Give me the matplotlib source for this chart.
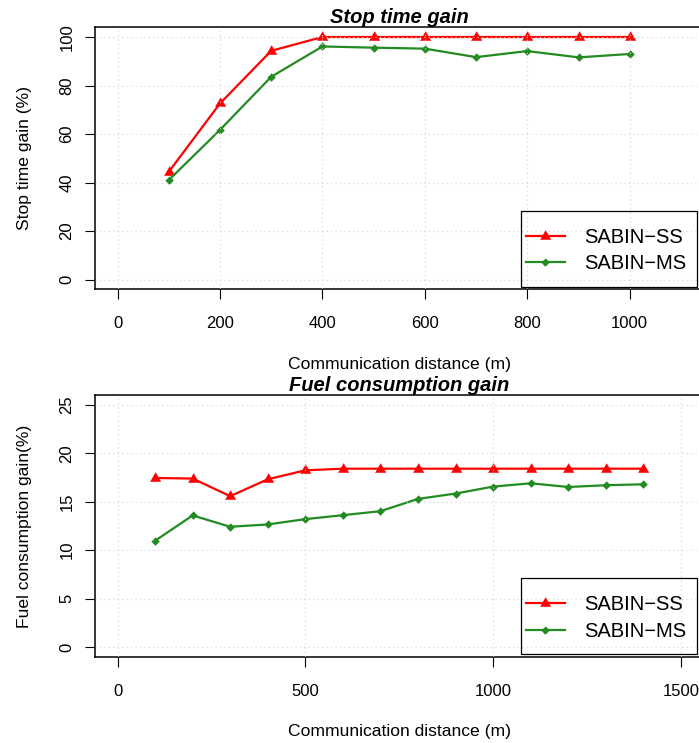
import matplotlib
matplotlib.use("Agg")
import matplotlib.pyplot as plt
from matplotlib.patches import Rectangle

plt.rcParams['font.family'] = ['Liberation Sans', 'DejaVu Sans']

# ---------------- data ----------------
stop_distance = [100, 200, 300, 400, 500, 600, 700, 800, 900, 1000]
stop_ss = [44.4, 72.6, 94.3, 100, 100, 100, 100, 100, 100, 100]
stop_ms = [41.0, 61.7, 83.6, 96.1, 95.6, 95.2, 91.7, 94.2, 91.6, 93.0]

fuel_distance = [100, 200, 300, 400, 500, 600, 700, 800, 900, 1000, 1100, 1200, 1300, 1400]
fuel_ss = [17.45, 17.39, 15.57, 17.32, 18.24, 18.41, 18.41, 18.41, 18.41, 18.41, 18.41, 18.41, 18.41, 18.41]
fuel_ms = [10.97, 13.58, 12.41, 12.65, 13.20, 13.61, 14.02, 15.29, 15.84, 16.56, 16.90, 16.52, 16.70, 16.80]

series_labels = ["SABIN\u2212SS", "SABIN\u2212MS"]

stop_xticks = [0, 200, 400, 600, 800, 1000]
stop_yticks = [0, 20, 40, 60, 80, 100]
fuel_xticks = [0, 500, 1000, 1500]
fuel_yticks = [0, 5, 10, 15, 20, 25]

stop_xrange = (0, 1100)
stop_yrange = (0, 100)
fuel_xrange = (0, 1500)
fuel_yrange = (0, 25)

# ---------------- style ----------------
RED = '#FF0000'
GREEN = '#228B22'
GRID = '#D3D3D3'
TRI = [(0, 1.5551), (1.3468, -0.7776), (-1.3468, -0.7776)]
DIAM = [(0, 1), (1, 0), (0, -1), (-1, 0)]

W, H, DPI = 699, 743, 100
fig = plt.figure(figsize=(W / DPI, H / DPI), dpi=DPI)
fig.patch.set_facecolor('white')


def r_lim(rng):
    pad = 0.04 * (rng[1] - rng[0])
    return (rng[0] - pad, rng[1] + pad)


def make_panel(rect_px, x, ss, ms, xticks, yticks, xrange_, yrange_, title, ylabel):
    left, top, right, bottom = rect_px
    ax = fig.add_axes([left / W, 1 - bottom / H, (right - left) / W, (bottom - top) / H])
    l1, = ax.plot(x, ss, color=RED, lw=1.6, marker=TRI, ms=8.6, mew=0.4,
                  mec=RED, mfc=RED, zorder=2, clip_on=False)
    l2, = ax.plot(x, ms, color=GREEN, lw=1.6, marker=DIAM, ms=5.6, mew=0.4,
                  mec=GREEN, mfc=GREEN, zorder=2, clip_on=False)
    ax.set_xlim(*r_lim(xrange_))
    ax.set_ylim(*r_lim(yrange_))
    ax.set_xticks(xticks)
    ax.set_yticks(yticks)
    ax.set_axisbelow(False)
    ax.grid(True, color=GRID, linestyle=(0, (1, 3)), linewidth=0.8)
    for sp in ax.spines.values():
        sp.set_linewidth(1.1)
        sp.set_color('black')
    ax.tick_params(axis='both', direction='out', length=7.2, width=0.8,
                   labelsize=12, colors='black')
    ax.tick_params(axis='x', pad=12.2)
    ax.tick_params(axis='y', pad=7.6)
    for lbl in ax.get_yticklabels():
        lbl.set_rotation(90)
        lbl.set_va('center')
    ax.set_title(title, fontsize=14.5, fontweight='bold', fontstyle='italic', pad=2.1)
    ax.set_xlabel('Communication distance (m)', fontsize=12.6, labelpad=18.2)
    ax.set_ylabel(ylabel, fontsize=12.6, labelpad=19.6)

    # legend (R style, transparent, square box)
    ax.add_patch(Rectangle((0.70, 0.01), 0.29, 0.29, transform=ax.transAxes,
                           fill=False, edgecolor='black', lw=0.9, zorder=4))
    ax.legend([l1, l2], series_labels, loc='center left',
              bbox_to_anchor=(0.7078, 0.148), frameon=False, fontsize=14.5,
              borderpad=0, borderaxespad=0, handlelength=1.955,
              handletextpad=0.945, labelspacing=0.38, numpoints=1)
    return ax


make_panel((95, 27.3, 703.5, 289.3), stop_distance, stop_ss, stop_ms,
           stop_xticks, stop_yticks, stop_xrange, stop_yrange,
           'Stop time gain', 'Stop time gain (%)')
make_panel((95, 395.2, 703.5, 656.6), fuel_distance, fuel_ss, fuel_ms,
           fuel_xticks, fuel_yticks, fuel_xrange, fuel_yrange,
           'Fuel consumption gain', 'Fuel consumption gain(%)')

fig.savefig('out.png', dpi=DPI)
